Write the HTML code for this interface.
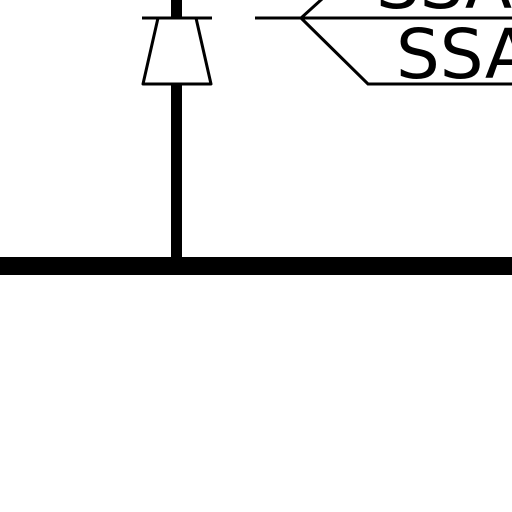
<!DOCTYPE html>
<html><head><style>html,body{margin:0;padding:0;background:#fff;width:512px;height:512px;overflow:hidden}</style></head>
<body>
<svg width="512" height="512" viewBox="0 0 512 512" xmlns="http://www.w3.org/2000/svg">
<rect width="512" height="512" fill="#fff"/>
<rect x="171" y="0" width="11" height="18" fill="#000"/>
<rect x="171" y="84" width="11" height="180" fill="#000"/>
<rect x="0" y="257" width="512" height="18" fill="#000"/>
<line x1="142" y1="18" x2="212" y2="18" stroke="#000" stroke-width="3"/>
<polygon points="158,18 196,18 211,84 143,84" fill="none" stroke="#000" stroke-width="3" stroke-linejoin="round"/>
<line x1="255" y1="18" x2="512" y2="18" stroke="#000" stroke-width="3"/>
<polyline points="322,-1 301,18 368,84 512,84" fill="none" stroke="#000" stroke-width="3"/>
<text x="396" y="78" font-family="DejaVu Sans, sans-serif" font-size="69" fill="#000">SSA</text>
<text x="376" y="8" font-family="DejaVu Sans, sans-serif" font-size="69" fill="#000">SSA</text>
</svg>
</body></html>
